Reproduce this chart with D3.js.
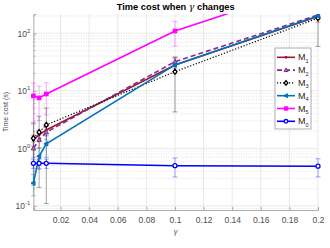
<!DOCTYPE html>
<html>
<head>
<meta charset="utf-8">
<script src="https://cdn.jsdelivr.net/npm/d3@7"></script>
<style>
  body { margin: 0; background: #fff; }
  text { font-family: "Liberation Sans", Arial, sans-serif; }
</style>
</head>
<body>
<div id="chart"></div>
<script>
// gamma values on the x axis
const gammas = [0.001, 0.005, 0.01, 0.1, 0.2];
const xTicks = [0.02, 0.04, 0.06, 0.08, 0.1, 0.12, 0.14, 0.16, 0.18, 0.2];
const yTicks = [0.1, 1, 10, 100];

// time cost per method (seconds) and error (+/-)
const m1 = [1.40, 1.72, 2.09, 28, 195];
const m1Err = [0.3, 0.35, 0.45, 8, 40];
const m2 = [1.0, 1.4, 1.91, 32, 208];
const m2Err = [0.3, 0.4, 0.5, 6, 30];
const m3 = [1.5, 1.91, 2.56, 21.5, 183];
const m3Err = [1.27, 1.7, 2.45, 17.2, 124];
const m4 = [0.25, 0.73, 1.2, 28.2, 200];
const m4Err = [0.1, 0.3, 0.5, 4, 20];
const m5 = [8.15, 7.53, 8.8, 109.6, 720];
const m5Err = [5.5, 4.5, 5, 50, 200];
const m6 = [0.55, 0.55, 0.55, 0.50, 0.49];
const m6Err = [0.1, 0.1, 0.1, 0.18, 0.17];

const series = [
  { name: "1", values: m1, err: m1Err, color: "#A2142F", dash: null, marker: "dot" },
  { name: "2", values: m2, err: m2Err, color: "#7E2F8E", dash: "5,3", marker: "triangle" },
  { name: "3", values: m3, err: m3Err, color: "#000000", dash: "1.2,1.8", marker: "diamond" },
  { name: "4", values: m4, err: m4Err, color: "#0072BD", dash: null, marker: "left" },
  { name: "5", values: m5, err: m5Err, color: "#FF00FF", dash: null, marker: "square" },
  { name: "0", values: m6, err: m6Err, color: "#0000FF", dash: null, marker: "circle" }
];

const W = 330, H = 248;
const margin = { top: 14, right: 12, bottom: 38, left: 33.4 };
const innerW = W - margin.left - margin.right;
const innerH = H - margin.top - margin.bottom;

const svg = d3.select("#chart").append("svg")
  .attr("width", W)
  .attr("height", H);

const g = svg.append("g")
  .attr("transform", "translate(" + margin.left + "," + margin.top + ")");

const x = d3.scaleLinear().domain([0.001, 0.2]).range([0, innerW]);
const y = d3.scaleLog().domain([0.085, 216]).range([innerH, 0]);

// grid
const minor = [];
for (let k = -2; k <= 2; k++) {
  for (let m = 2; m <= 9; m++) {
    const v = m * Math.pow(10, k);
    if (v > 0.085 && v < 216) minor.push(v);
  }
}
g.selectAll(".minor").data(minor).enter().append("line")
  .attr("x1", 0).attr("x2", innerW)
  .attr("y1", d => y(d)).attr("y2", d => y(d))
  .attr("stroke", "#d4d4d4").attr("stroke-width", 0.7)
  .attr("stroke-dasharray", "1,1.5");
g.selectAll(".ygrid").data(yTicks).enter().append("line")
  .attr("x1", 0).attr("x2", innerW)
  .attr("y1", d => y(d)).attr("y2", d => y(d))
  .attr("stroke", "#e3e3e3").attr("stroke-width", 0.8);
g.selectAll(".xgrid").data(xTicks).enter().append("line")
  .attr("x1", d => x(d)).attr("x2", d => x(d))
  .attr("y1", 0).attr("y2", innerH)
  .attr("stroke", "#e3e3e3").attr("stroke-width", 0.8);

// axes
const xAxis = g.append("g")
  .attr("transform", "translate(0," + innerH + ")")
  .call(d3.axisBottom(x).tickValues(xTicks).tickSize(-3).tickPadding(7)
    .tickFormat(d => d3.format("")(+d.toFixed(2))));
const yAxis = g.append("g")
  .call(d3.axisLeft(y).tickValues(yTicks).tickSize(-3).tickPadding(5).tickFormat(""));
[xAxis, yAxis].forEach(a => {
  a.select(".domain").attr("stroke", "#9a9a9a").attr("stroke-width", 0.8);
  a.selectAll(".tick line").attr("stroke", "#9a9a9a").attr("stroke-width", 0.8);
  a.selectAll("text").attr("fill", "#4d4d4d").attr("font-size", 8.5);
});
// minor ticks on y
g.selectAll(".mtick").data(minor).enter().append("line")
  .attr("x1", 0).attr("x2", 1.8)
  .attr("y1", d => y(d)).attr("y2", d => y(d))
  .attr("stroke", "#9a9a9a").attr("stroke-width", 0.7);

// y tick labels 10^k
const ylab = g.selectAll(".ylab").data(yTicks).enter().append("text")
  .attr("x", -3).attr("y", d => y(d) + 3.5)
  .attr("text-anchor", "end")
  .attr("fill", "#4d4d4d")
  .attr("font-size", 8.5);
ylab.append("tspan").text("10");
ylab.append("tspan").attr("dy", -4).attr("font-size", 6)
  .text(d => Math.round(Math.log10(d)));

// clip for data
svg.append("defs").append("clipPath").attr("id", "clip")
  .append("rect").attr("x", -4).attr("y", 0).attr("width", innerW + 8).attr("height", innerH);
const plot = g.append("g").attr("clip-path", "url(#clip)");

function drawMarker(sel, type, color, cx, cy, s) {
  if (type === "dot") {
    sel.append("circle").attr("cx", cx).attr("cy", cy).attr("r", s * 0.55)
      .attr("fill", color).attr("stroke", color);
  } else if (type === "circle") {
    sel.append("circle").attr("cx", cx).attr("cy", cy).attr("r", s)
      .attr("fill", "#fff").attr("stroke", color).attr("stroke-width", 1.3);
  } else if (type === "square") {
    sel.append("rect").attr("x", cx - s * 0.9).attr("y", cy - s * 0.9)
      .attr("width", s * 1.8).attr("height", s * 1.8)
      .attr("fill", color).attr("stroke", color);
  } else if (type === "triangle") {
    sel.append("path")
      .attr("d", `M${cx},${cy - s * 1.2}L${cx + s * 1.1},${cy + s * 0.8}L${cx - s * 1.1},${cy + s * 0.8}Z`)
      .attr("fill", "#a67fb0").attr("stroke", color).attr("stroke-width", 1);
  } else if (type === "left") {
    sel.append("path")
      .attr("d", `M${cx - s * 1.2},${cy}L${cx + s * 0.8},${cy - s * 1.1}L${cx + s * 0.8},${cy + s * 1.1}Z`)
      .attr("fill", color).attr("stroke", color).attr("stroke-width", 1);
  } else if (type === "diamond") {
    sel.append("path")
      .attr("d", `M${cx},${cy - s * 1.3}L${cx + s},${cy}L${cx},${cy + s * 1.3}L${cx - s},${cy}Z`)
      .attr("fill", "#fff").attr("stroke", color).attr("stroke-width", 1.3);
  }
}

const line = d3.line().x((d, i) => x(gammas[i])).y(d => y(d));

// error bars
series.forEach(s => {
  const eb = plot.append("g").attr("stroke", s.color).attr("stroke-opacity", 0.35)
    .attr("stroke-width", 1);
  s.values.forEach((v, i) => {
    const lo = Math.max(v - s.err[i], 0.01), hi = v + s.err[i];
    const cx = x(gammas[i]);
    eb.append("line").attr("x1", cx).attr("x2", cx).attr("y1", y(lo)).attr("y2", y(hi));
    eb.append("line").attr("x1", cx - 2.5).attr("x2", cx + 2.5).attr("y1", y(lo)).attr("y2", y(lo));
    eb.append("line").attr("x1", cx - 2.5).attr("x2", cx + 2.5).attr("y1", y(hi)).attr("y2", y(hi));
  });
});

// lines + markers
series.forEach(s => {
  plot.append("path").datum(s.values)
    .attr("d", line)
    .attr("fill", "none")
    .attr("stroke", s.color)
    .attr("stroke-width", s.marker === "diamond" ? 1.2 : 1.6)
    .attr("stroke-dasharray", s.dash);
  const mg = plot.append("g");
  s.values.forEach((v, i) => drawMarker(mg, s.marker, s.color, x(gammas[i]), y(v), 2));
});

// title and labels
const title = svg.append("text")
  .attr("x", margin.left + innerW / 2).attr("y", 10)
  .attr("text-anchor", "middle")
  .attr("font-size", 9.3).attr("font-weight", "bold").attr("fill", "#000");
title.append("tspan").text("Time cost when ");
title.append("tspan").attr("font-family", "DejaVu Serif").attr("font-style", "italic")
  .attr("font-weight", "normal").text("γ");
title.append("tspan").text(" changes");

svg.append("text")
  .attr("x", margin.left + innerW / 2).attr("y", 234)
  .attr("text-anchor", "middle").attr("font-size", 7.5)
  .attr("font-family", "DejaVu Serif").attr("font-style", "italic")
  .attr("fill", "#4d4d4d").text("γ");

svg.append("text")
  .attr("transform", "translate(8," + (margin.top + innerH / 2) + ") rotate(-90)")
  .attr("text-anchor", "middle").attr("font-size", 7)
  .attr("fill", "#4d4d4d").text("Time cost (s)");

// legend
const lg = svg.append("g").attr("transform", "translate(275,48)");
lg.append("rect").attr("width", 36).attr("height", 81)
  .attr("fill", "#fff").attr("stroke", "#9a9a9a").attr("stroke-width", 0.8);
series.forEach((s, i) => {
  const ly = 9.3 + i * 12.8;
  lg.append("line").attr("x1", 2).attr("x2", 20).attr("y1", ly).attr("y2", ly)
    .attr("stroke", s.color)
    .attr("stroke-width", s.marker === "diamond" ? 1.2 : 1.6)
    .attr("stroke-dasharray", s.dash);
  drawMarker(lg, s.marker, s.color, 11, ly, 1.8);
  const t = lg.append("text").attr("x", 23).attr("y", ly + 3)
    .attr("font-size", 9).attr("fill", "#262626");
  t.append("tspan").text("M");
  t.append("tspan").attr("dy", 2.5).attr("font-size", 5.5).text(s.name);
});
</script>
</body>
</html>
